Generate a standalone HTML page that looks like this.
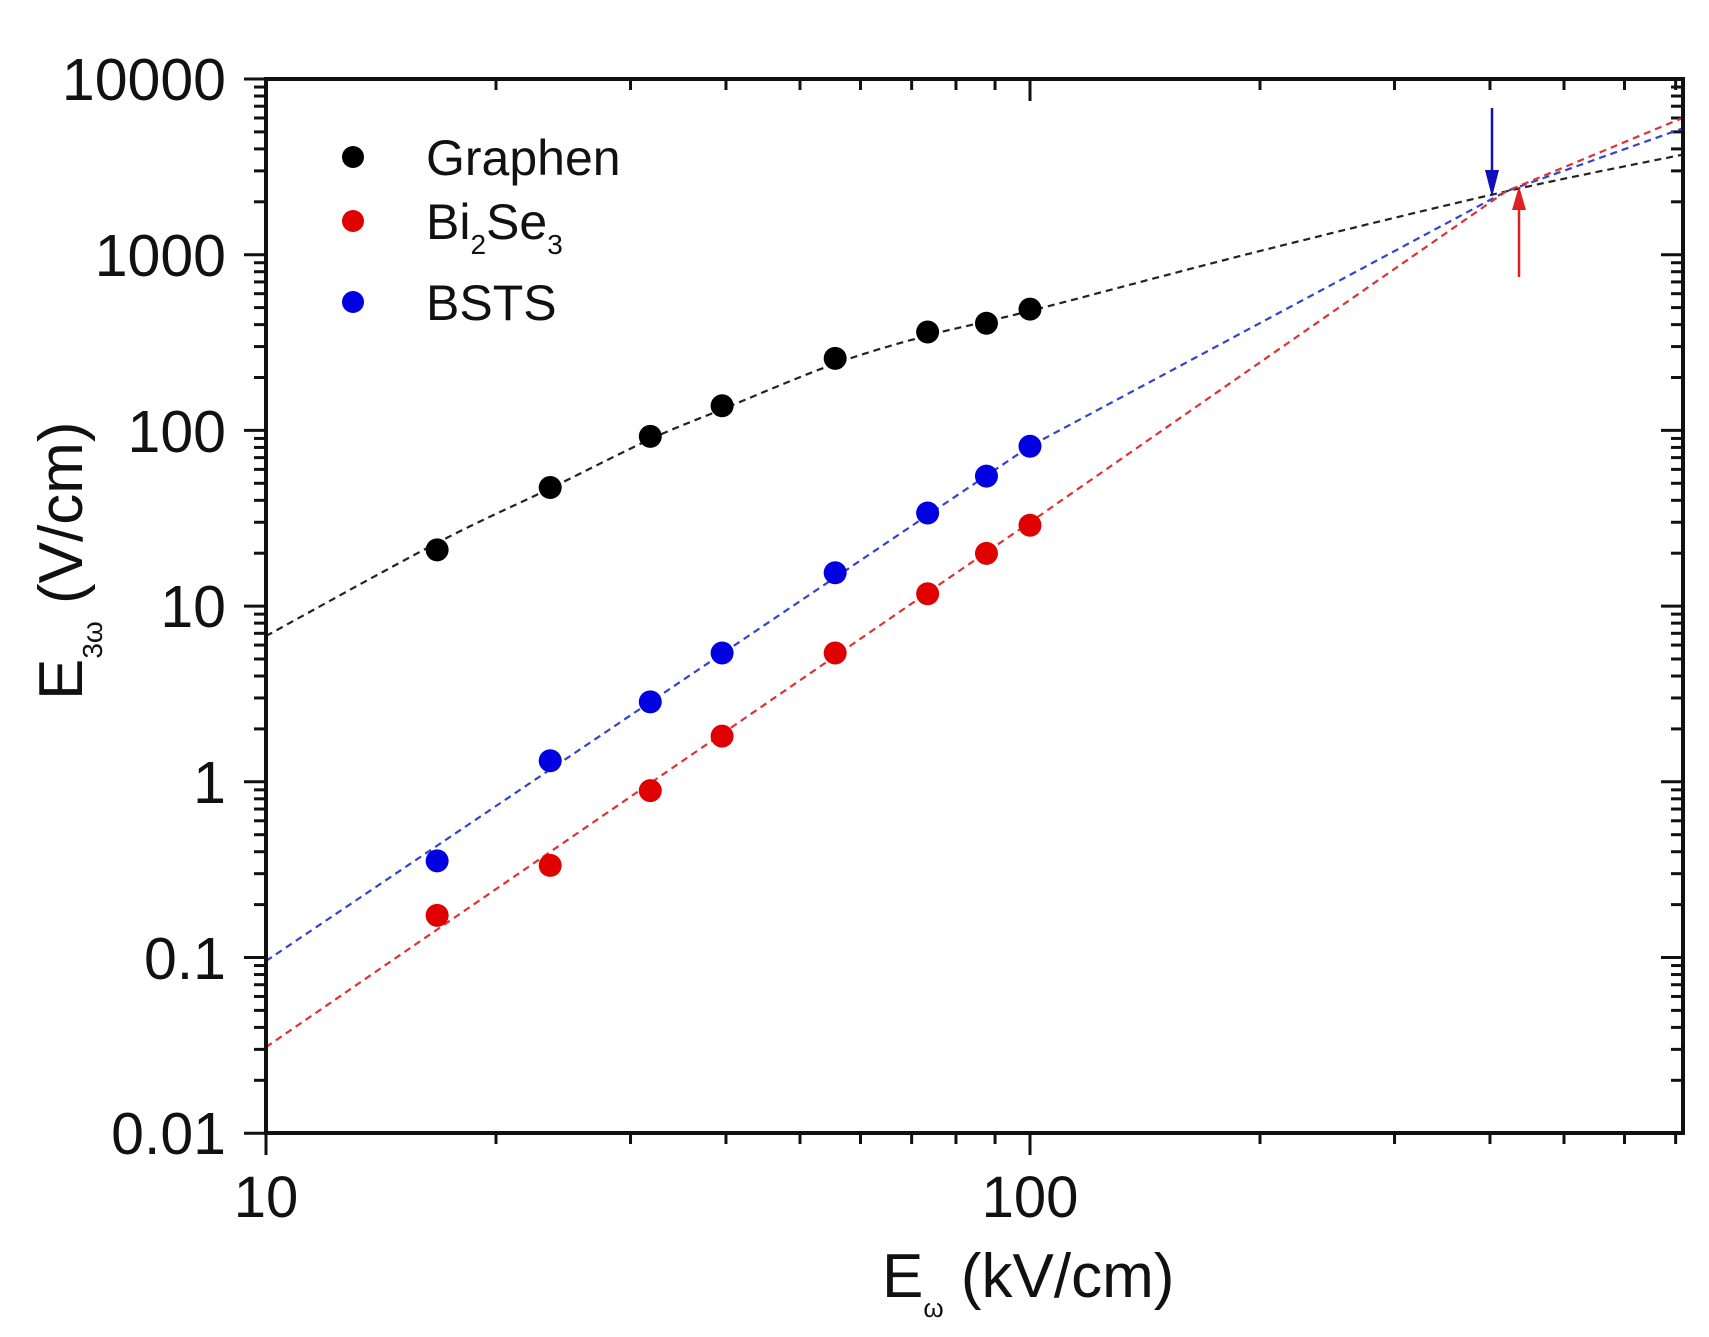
<!DOCTYPE html>
<html><head><meta charset="utf-8"><style>
html,body{margin:0;padding:0;background:#fff}
svg{display:block}
text{font-family:"Liberation Sans",Arial,sans-serif;fill:#111}
</style></head><body>
<svg id="s" width="1709" height="1337" viewBox="0 0 1709 1337" xmlns="http://www.w3.org/2000/svg">
<g id="ticks" stroke="#111" stroke-width="3"></g>
<g id="lines" fill="none" stroke-width="2.2" stroke-dasharray="7,5"></g>
<rect x="266" y="79" width="1417" height="1054" fill="none" stroke="#111" stroke-width="4"/>
<g id="dots"></g>
<g font-size="59" text-anchor="end">
<text x="226" y="100">10000</text>
<text x="226" y="276">1000</text>
<text x="226" y="452">100</text>
<text x="226" y="627">10</text>
<text x="226" y="803">1</text>
<text x="226" y="979">0.1</text>
<text x="226" y="1154">0.01</text>
</g>
<g font-size="58" text-anchor="middle">
<text x="266" y="1217">10</text>
<text x="1030" y="1217">100</text>
</g>
<text x="882" y="1297" font-size="62">E<tspan font-size="26" dy="20">ω</tspan><tspan dy="-20"> (kV/cm)</tspan></text>
<text transform="translate(82,700) rotate(-90)" font-size="62">E<tspan font-size="28" dy="20">3ω</tspan><tspan dy="-20"> (V/cm)</tspan></text>
<circle cx="353" cy="157" r="11" fill="#000"/>
<circle cx="353" cy="221" r="11" fill="#e00000"/>
<circle cx="353" cy="302" r="11" fill="#0000e0"/>
<g font-size="50">
<text x="426" y="175">Graphen</text>
<text x="426" y="239">Bi<tspan font-size="28" dy="15">2</tspan><tspan dy="-15">Se</tspan><tspan font-size="28" dy="15">3</tspan></text>
<text x="426" y="320">BSTS</text>
</g>
<line x1="1492" y1="108" x2="1492" y2="180" stroke="#1010c0" stroke-width="2.5"/>
<polygon points="1485,170 1499,170 1492,197" fill="#1010c0"/>
<line x1="1519" y1="277" x2="1519" y2="200" stroke="#e02020" stroke-width="2.5"/>
<polygon points="1512,210 1526,210 1519,186" fill="#e02020"/>
</svg>
<script>
const NS="http://www.w3.org/2000/svg";
const px=X=>266+X*764, py=Y=>79+(4-Y)*175.7;
function el(p,t,a){const e=document.createElementNS(NS,t);for(const k in a)e.setAttribute(k,a[k]);document.getElementById(p).appendChild(e);}
for(let d=-2;d<=4;d++){for(let m=1;m<10;m++){const Y=d+Math.log10(m);if(Y>4.0001)break;const y=py(Y);const L=m==1?22:12;
 el("ticks","line",{x1:266-L,y1:y,x2:266,y2:y});el("ticks","line",{x1:1683-L,y1:y,x2:1683,y2:y});}}
for(let d=1;d<=2;d++){for(let m=1;m<10;m++){const X=d-1+Math.log10(m);if(X>1.856)break;const x=px(X);const L=m==1?22:11;
 el("ticks","line",{x1:x,y1:1133,x2:x,y2:1133+L});el("ticks","line",{x1:x,y1:79,x2:x,y2:79+L});}}
function cr(P){let pts=[];for(let i=0;i<P.length-1;i++){const p0=P[Math.max(0,i-1)],p1=P[i],p2=P[i+1],p3=P[Math.min(P.length-1,i+2)];
 for(let t=0;t<1;t+=0.05){const t2=t*t,t3=t2*t;const f=(a,b,c,d)=>0.5*(2*b+(-a+c)*t+(2*a-5*b+4*c-d)*t2+(-a+3*b-3*c+d)*t3);
 pts.push(px(f(p0[0],p1[0],p2[0],p3[0])).toFixed(1)+","+py(f(p0[1],p1[1],p2[1],p3[1])).toFixed(1));}}
 const l=P[P.length-1];pts.push(px(l[0])+","+py(l[1]));return pts.join(" ");}
function lin(P){return P.map(p=>px(p[0]).toFixed(1)+","+py(p[1]).toFixed(1)).join(" ");}
el("lines","polyline",{points:cr([[0,0.83],[0.224,1.36],[0.372,1.67],[0.503,1.95],[0.597,2.12],[0.745,2.38],[0.866,2.54],[1,2.68],[1.3,3.02],[1.623,3.36],[1.855,3.57]]),stroke:"#222"});
el("lines","polyline",{points:lin([[0,-1.02],[1,1.91],[1.623,3.36],[1.855,3.72]]),stroke:"#3344cc"});
el("lines","polyline",{points:lin([[0,-1.51],[1,1.477],[1.623,3.36],[1.855,3.78]]),stroke:"#dd3333"});
const xs=[1.224,1.372,1.503,1.597,1.745,1.866,1.943,2.0];
const g=[1.32,1.675,1.966,2.14,2.41,2.56,2.61,2.69],b=[-0.45,0.12,0.455,0.733,1.19,1.53,1.74,1.91],r=[-0.76,-0.476,-0.05,0.26,0.733,1.07,1.30,1.46];
xs.forEach((x,i)=>{el("dots","circle",{cx:px(x-1),cy:py(g[i]),r:11.5,fill:"#000"});el("dots","circle",{cx:px(x-1),cy:py(b[i]),r:11.5,fill:"#0000e0"});el("dots","circle",{cx:px(x-1),cy:py(r[i]),r:11.5,fill:"#e00000"});});
</script>
</body></html>
